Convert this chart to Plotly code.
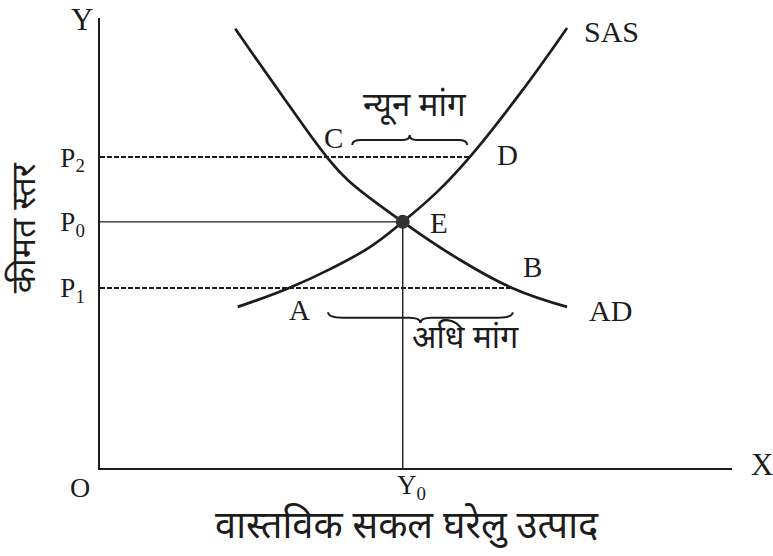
import plotly.graph_objects as go

# ---- data (axis units 0..10) ----
ad_x = [2.14, 2.90, 3.59, 3.92, 4.79, 5.62, 6.52, 7.39]
ad_y = [9.76, 8.24, 6.91, 6.40, 5.47, 4.69, 4.00, 3.58]
sas_x = [2.18, 2.99, 3.64, 4.27, 4.79, 5.33, 5.85, 6.65, 7.39]
sas_y = [3.58, 4.00, 4.42, 4.91, 5.47, 6.13, 6.91, 8.33, 9.78]

P_levels = [4.00, 5.47, 6.91]          # P1, P0, P2
P_labels = ["P<sub>1</sub>", "P<sub>0</sub>", "P<sub>2</sub>"]
Y0_value = 4.79
Y0_label = "Y<sub>0</sub>"
E_point = (4.79, 5.47)
C_point = (3.59, 6.91)
D_point = (5.85, 6.91)
A_point = (2.99, 4.00)
B_point = (6.52, 4.00)

x_title = "वास्तविक सकल घरेलु उत्पाद"
y_title = "कीमत स्तर"
shortage_label = "न्यून मांग"
surplus_label = "अधि मांग"

INK = "#1c1c1c"
SERIF = "Liberation Serif, Times New Roman, serif"
DEVA = "Noto Sans Devanagari, Lohit Devanagari, Noto Sans, sans-serif"

fig = go.Figure()

# AD and SAS curves
for xs, ys in ((ad_x, ad_y), (sas_x, sas_y)):
    fig.add_trace(go.Scatter(x=xs, y=ys, mode="lines",
                             line=dict(color=INK, width=2.7, shape="spline", smoothing=1.2),
                             hoverinfo="skip", showlegend=False))

# guide lines
fig.add_trace(go.Scatter(x=[0, D_point[0]], y=[P_levels[2], P_levels[2]], mode="lines",
                         line=dict(color=INK, width=2, dash="5px,2px"),
                         hoverinfo="skip", showlegend=False))
fig.add_trace(go.Scatter(x=[0, B_point[0]], y=[P_levels[0], P_levels[0]], mode="lines",
                         line=dict(color=INK, width=2, dash="5px,2px"),
                         hoverinfo="skip", showlegend=False))
fig.add_trace(go.Scatter(x=[0, E_point[0]], y=[P_levels[1], P_levels[1]], mode="lines",
                         line=dict(color=INK, width=1.4),
                         hoverinfo="skip", showlegend=False))
fig.add_trace(go.Scatter(x=[Y0_value, Y0_value], y=[0, E_point[1]], mode="lines",
                         line=dict(color=INK, width=1.4),
                         hoverinfo="skip", showlegend=False))

# equilibrium point
fig.add_trace(go.Scatter(x=[E_point[0]], y=[E_point[1]], mode="markers",
                         marker=dict(color="#333333", size=14, symbol="circle"),
                         hoverinfo="skip", showlegend=False))


def brace(x0, x1, y0, h):
    w = x1 - x0
    xm = (x0 + x1) / 2
    ym = y0 + h / 2
    return (f"M {x0},{y0} Q {x0},{ym} {x0 + w*0.08},{ym} "
            f"L {xm - w*0.06},{ym} Q {xm},{ym} {xm},{y0 + h} "
            f"Q {xm},{ym} {xm + w*0.06},{ym} L {x1 - w*0.08},{ym} "
            f"Q {x1},{ym} {x1},{y0}")


shapes = [
    dict(type="path", xref="x", yref="y", path=brace(3.99, 5.81, 7.18, 0.22),
         line=dict(color=INK, width=2)),
    dict(type="path", xref="x", yref="y", path=brace(3.61, 6.53, 3.46, -0.24),
         line=dict(color=INK, width=2)),
]

ann = []


def lab(x, y, t, size, font=SERIF, xref="x", yref="y", angle=0):
    ann.append(dict(x=x, y=y, xref=xref, yref=yref, text=t, showarrow=False,
                    textangle=angle, xanchor="center", yanchor="middle",
                    font=dict(family=font, size=size, color=INK)))


lab(C_point[0] + 0.10, C_point[1] + 0.42, "C", 29)
lab(D_point[0] + 0.59, D_point[1] + 0.05, "D", 29)
lab(E_point[0] + 0.57, E_point[1] - 0.03, "E", 29)
lab(B_point[0] + 0.33, B_point[1] + 0.47, "B", 29)
lab(A_point[0] + 0.17, A_point[1] - 0.49, "A", 29)
lab(8.07, 3.51, "AD", 30)
lab(8.10, 9.69, "SAS", 30)
lab(4.98, 8.02, shortage_label, 33, DEVA)
lab(5.78, 2.84, surplus_label, 32, DEVA)
lab(Y0_value + 0.14, -0.043, Y0_label, 27, yref="paper")
lab(-0.032, -0.044, "O", 28, xref="paper", yref="paper")
lab(1.047, 0.007, "X", 31, xref="paper", yref="paper")
lab(-0.028, 0.996, "Y", 31, xref="paper", yref="paper")
lab(0.486, -0.135, x_title, 38, DEVA, xref="paper", yref="paper")
lab(-0.117, 0.533, y_title, 34, DEVA, xref="paper", yref="paper", angle=-90)

fig.update_layout(
    width=773, height=556,
    margin=dict(l=100, r=41, t=18, b=88),
    paper_bgcolor="white", plot_bgcolor="white",
    shapes=shapes, annotations=ann,
    xaxis=dict(range=[0, 10], showgrid=False, zeroline=False, showline=True,
               linecolor=INK, linewidth=1.5, showticklabels=False, ticks="",
               fixedrange=True),
    yaxis=dict(range=[0, 10], showgrid=False, zeroline=False, showline=True,
               linecolor=INK, linewidth=1.5, tickmode="array",
               tickvals=P_levels, ticktext=P_labels, ticks="",
               ticklabelstandoff=8,
               tickfont=dict(family=SERIF, size=27, color=INK), fixedrange=True),
)

fig.write_html("out.html", config={"displayModeBar": False},
               post_script="document.body.style.margin='0';document.body.style.overflow='hidden';")
